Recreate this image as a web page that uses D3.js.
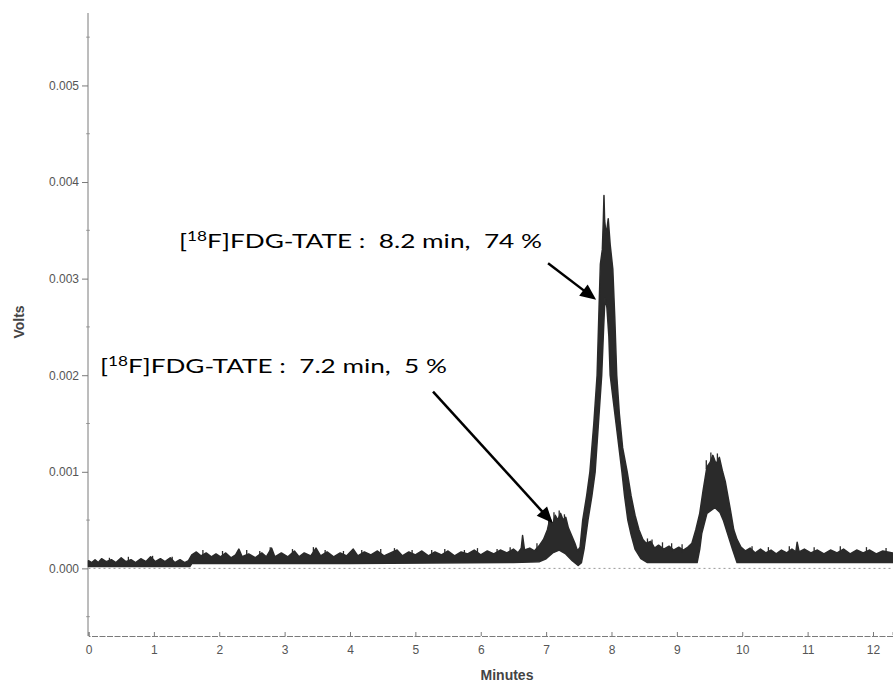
<!DOCTYPE html>
<html>
<head>
<meta charset="utf-8">
<script src="https://cdn.jsdelivr.net/npm/d3@7"></script>
<style>
  body { margin: 0; background: #fff; }
</style>
</head>
<body>
<svg id="chart" width="893" height="683"></svg>
<script>
'use strict';

// ---- data (minutes, volts) ----
var minuteTicks = [0, 1, 2, 3, 4, 5, 6, 7, 8, 9, 10, 11, 12];
var voltTicks = [0.000, 0.001, 0.002, 0.003, 0.004, 0.005];
var voltMinorTicks = [-0.0005, 0.0005, 0.0015, 0.0025, 0.0035, 0.0045, 0.0055];

// top edge of the noisy trace band
var upperEdge = [
  [0.00,0.00008],[0.05,0.00006],[0.10,0.00009],[0.15,0.00006],[0.20,0.00010],[0.27,0.00007],
  [0.35,0.00009],[0.42,0.00006],[0.50,0.00011],[0.57,0.00007],[0.65,0.00009],[0.72,0.00006],
  [0.80,0.00010],[0.88,0.00007],[0.95,0.00012],[1.02,0.00007],[1.10,0.00010],[1.17,0.00007],
  [1.25,0.00011],[1.32,0.00006],[1.40,0.00009],[1.47,0.00006],[1.53,0.00008],
  [1.58,0.00014],[1.65,0.00017],[1.72,0.00013],[1.80,0.00016],[1.88,0.00012],[1.95,0.00015],
  [2.02,0.00012],[2.10,0.00016],[2.18,0.00011],[2.25,0.00014],[2.30,0.00020],[2.35,0.00012],
  [2.45,0.00015],[2.55,0.00011],[2.65,0.00016],[2.72,0.00012],[2.80,0.00021],[2.85,0.00012],
  [2.95,0.00016],[3.05,0.00012],[3.15,0.00018],[3.22,0.00012],[3.30,0.00016],[3.40,0.00013],
  [3.48,0.00021],[3.55,0.00013],[3.65,0.00017],[3.75,0.00012],[3.85,0.00016],[3.95,0.00013],
  [4.05,0.00020],[4.12,0.00013],[4.22,0.00017],[4.32,0.00014],[4.42,0.00018],[4.52,0.00013],
  [4.62,0.00016],[4.72,0.00019],[4.80,0.00013],[4.90,0.00017],[5.00,0.00014],[5.10,0.00018],
  [5.20,0.00013],[5.30,0.00017],[5.40,0.00014],[5.50,0.00018],[5.60,0.00013],[5.70,0.00017],
  [5.80,0.00015],[5.90,0.00019],[6.00,0.00014],[6.10,0.00018],[6.20,0.00015],[6.30,0.00019],
  [6.40,0.00016],[6.50,0.00020],[6.57,0.00016],[6.62,0.00021],[6.64,0.00034],[6.67,0.00019],
  [6.75,0.00021],[6.82,0.00018],[6.90,0.00024],[6.96,0.00030],[7.02,0.00040],[7.06,0.00052],
  [7.10,0.00045],[7.14,0.00055],[7.18,0.00050],[7.22,0.00057],[7.26,0.00050],[7.30,0.00053],
  [7.34,0.00042],[7.39,0.00034],[7.44,0.00026],[7.48,0.00018],
  [7.52,0.00022],[7.56,0.00050],[7.62,0.00075],[7.67,0.00100],[7.73,0.00150],[7.78,0.00200],
  [7.81,0.00270],[7.83,0.00315],[7.86,0.00330],[7.875,0.00360],[7.885,0.00386],[7.895,0.00360],
  [7.92,0.00345],[7.95,0.00362],[7.98,0.00335],[8.02,0.00310],[8.05,0.00260],[8.08,0.00200],
  [8.12,0.00160],[8.17,0.00125],[8.24,0.00100],[8.30,0.00075],[8.36,0.00055],[8.42,0.00040],
  [8.48,0.00030],[8.53,0.00026],[8.60,0.00028],[8.66,0.00021],[8.72,0.00024],[8.80,0.00020],
  [8.88,0.00023],[8.95,0.00019],[9.03,0.00022],[9.10,0.00019],[9.17,0.00022],
  [9.23,0.00026],[9.29,0.00040],[9.35,0.00057],[9.40,0.00080],[9.46,0.00105],[9.51,0.00110],
  [9.55,0.00117],[9.60,0.00108],[9.65,0.00115],[9.70,0.00100],[9.74,0.00090],[9.78,0.00075],
  [9.82,0.00060],[9.87,0.00040],[9.92,0.00030],[9.98,0.00022],
  [10.05,0.00018],[10.12,0.00021],[10.20,0.00016],[10.28,0.00020],[10.36,0.00016],[10.44,0.00019],
  [10.52,0.00015],[10.60,0.00019],[10.68,0.00016],[10.76,0.00020],[10.82,0.00017],[10.84,0.00027],
  [10.87,0.00017],[10.95,0.00020],[11.05,0.00016],[11.15,0.00019],[11.25,0.00015],[11.35,0.00019],
  [11.45,0.00016],[11.55,0.00020],[11.65,0.00015],[11.75,0.00019],[11.85,0.00016],[11.95,0.00019],
  [12.05,0.00015],[12.15,0.00018],[12.30,0.00016]
];

// bottom edge of the trace band
var lowerEdge = [
  [0.00,0.00002],[1.55,0.00002],[1.58,0.00005],[4.00,0.00005],[6.50,0.00006],[6.90,0.00007],
  [7.00,0.00010],[7.10,0.00016],[7.20,0.00019],[7.30,0.00015],[7.40,0.00008],[7.49,0.00003],
  [7.54,0.00006],[7.58,0.00020],[7.64,0.00050],[7.70,0.00075],[7.75,0.00100],[7.80,0.00150],
  [7.85,0.00200],[7.88,0.00250],[7.90,0.00280],[7.93,0.00270],[7.96,0.00240],[7.98,0.00200],
  [8.07,0.00150],[8.16,0.00100],[8.20,0.00075],[8.25,0.00050],[8.30,0.00035],[8.36,0.00020],
  [8.45,0.00010],[8.55,0.00006],[9.31,0.00006],[9.35,0.00020],[9.38,0.00036],[9.46,0.00057],
  [9.58,0.00063],[9.66,0.00058],[9.71,0.00050],[9.78,0.00035],[9.85,0.00020],[9.92,0.00006],
  [12.30,0.00006]
];

// isolated noise spikes poking above the band
var spikes = [
  [0.32,0.00011],[0.61,0.00012],[0.98,0.00013],[1.28,0.00012],[1.75,0.00019],[2.05,0.00018],
  [2.42,0.00019],[2.62,0.00018],[2.78,0.00022],[3.12,0.00020],[3.44,0.00022],[3.62,0.00019],
  [3.90,0.00018],[4.18,0.00019],[4.47,0.00020],[4.68,0.00021],[4.95,0.00019],[5.25,0.00019],
  [5.45,0.00020],[5.75,0.00019],[5.95,0.00021],[6.25,0.00020],[6.45,0.00022],[6.86,0.00026],
  [7.04,0.00055],[7.12,0.00058],[7.20,0.00060],[7.28,0.00056],[8.55,0.00031],[8.62,0.00030],
  [8.78,0.00027],[8.92,0.00026],[9.08,0.00025],[9.45,0.00112],[9.52,0.00120],[9.62,0.00119],
  [10.15,0.00023],[10.40,0.00022],[10.72,0.00023],[11.10,0.00022],[11.50,0.00023],[11.90,0.00022],
  [12.20,0.00021]
];

// peak labels: text anchor and arrow tail/tip, in (minutes, volts)
var peakLabels = [
  { pre: '[', sup: '18', post: 'F]FDG-TATE :  8.2 min,  74 %', at: [1.385, 0.00332], width: 363,
    tail: [7.03, 0.00316], tip: [7.765, 0.00278] },
  { pre: '[', sup: '18', post: 'F]FDG-TATE :  7.2 min,  5 %', at: [0.175, 0.00202], width: 347,
    tail: [5.27, 0.00183], tip: [7.10, 0.00047] }
];

// ---- drawing ----
var svg = d3.select('#chart');

var x = d3.scaleLinear().domain([0, 12.3]).range([88.5, 892.6]);
var y = d3.scaleLinear().domain([-0.0007, 0.00575]).range([636, 13]);

var axisColor = '#7a7a7a';
var labelColor = '#555';
var traceColor = '#2a2a2a';

// y axis
var gy = svg.append('g')
    .attr('transform', 'translate(88,0)')
    .call(d3.axisLeft(y).tickValues(voltTicks).tickFormat(d3.format('.3f')).tickSize(6).tickPadding(3));
gy.select('.domain').remove();
gy.selectAll('.tick line').attr('stroke', axisColor);
gy.selectAll('.tick text')
    .attr('font-family', 'Liberation Sans, Arial, sans-serif')
    .attr('font-size', 12)
    .attr('fill', labelColor);

svg.append('g')
    .selectAll('line')
    .data(voltMinorTicks)
    .join('line')
      .attr('x1', 86).attr('x2', 90)
      .attr('y1', d => y(d)).attr('y2', d => y(d))
      .attr('stroke', '#aaa');

svg.append('line')
    .attr('x1', 88).attr('x2', 88)
    .attr('y1', y.range()[1]).attr('y2', y.range()[0])
    .attr('stroke', axisColor);

// x axis
var gx = svg.append('g')
    .attr('transform', 'translate(0,636)')
    .call(d3.axisBottom(x).tickValues(minuteTicks).tickFormat(d3.format('d')).tickSize(-4).tickPadding(9));
gx.select('.domain')
    .attr('stroke', axisColor)
    .attr('stroke-dasharray', '6,1.5');
gx.selectAll('.tick line').attr('stroke', axisColor);
gx.selectAll('.tick text')
    .attr('font-family', 'Liberation Sans, Arial, sans-serif')
    .attr('font-size', 12)
    .attr('fill', labelColor);

// axis titles
svg.append('text')
    .attr('transform', 'translate(24,322) rotate(-90)')
    .attr('text-anchor', 'middle')
    .attr('font-family', 'Liberation Sans, Arial, sans-serif')
    .attr('font-weight', 'bold')
    .attr('font-size', 14)
    .attr('fill', '#444')
    .text('Volts');

svg.append('text')
    .attr('x', 507).attr('y', 680)
    .attr('text-anchor', 'middle')
    .attr('font-family', 'Liberation Sans, Arial, sans-serif')
    .attr('font-weight', 'bold')
    .attr('font-size', 14)
    .attr('fill', '#444')
    .text('Minutes');

// dotted zero reference
svg.append('line')
    .attr('x1', x(0)).attr('x2', x(12.3))
    .attr('y1', y(0)).attr('y2', y(0))
    .attr('stroke', '#999')
    .attr('stroke-dasharray', '2,3');

// trace band: upper edge forward, lower edge back
var line = d3.line()
    .x(d => x(d[0]))
    .y(d => y(d[1]));

var band = upperEdge.concat(lowerEdge.slice().reverse());

svg.append('path')
    .attr('d', line(band) + 'Z')
    .attr('fill', traceColor)
    .attr('stroke', traceColor)
    .attr('stroke-width', 1.5)
    .attr('stroke-linejoin', 'round');

// spikes only reach down into the band, never through the white inside a peak
svg.append('g')
    .selectAll('line')
    .data(spikes)
    .join('line')
      .attr('x1', d => x(d[0])).attr('x2', d => x(d[0]))
      .attr('y1', d => y(d[1] - 0.00009)).attr('y2', d => y(d[1]))
      .attr('stroke', traceColor)
      .attr('stroke-width', 1.3);

// labels and arrows
var labels = svg.append('g')
    .attr('font-family', 'Lato, "Open Sans", sans-serif')
    .attr('fill', '#000');

peakLabels.forEach(function(p)
{
  var t = labels.append('text')
      .attr('x', x(p.at[0]))
      .attr('y', y(p.at[1]))
      .attr('font-size', 19)
      .attr('textLength', p.width)
      .attr('lengthAdjust', 'spacingAndGlyphs')
      .style('white-space', 'pre');
  t.append('tspan').text(p.pre);
  t.append('tspan').attr('font-size', 12.5).attr('dy', -7).text(p.sup);
  t.append('tspan').attr('dy', 7).text(p.post);

  DrawArrow(x(p.tail[0]), y(p.tail[1]), x(p.tip[0]), y(p.tip[1]));
});

function DrawArrow(x1, y1, x2, y2)
{
  var ang = Math.atan2(y2 - y1, x2 - x1);
  var len = 16, half = 7;
  var bx = x2 - len * Math.cos(ang);
  var by = y2 - len * Math.sin(ang);
  var px = -Math.sin(ang) * half;
  var py = Math.cos(ang) * half;

  labels.append('line')
      .attr('x1', x1).attr('y1', y1)
      .attr('x2', bx + 2 * Math.cos(ang)).attr('y2', by + 2 * Math.sin(ang))
      .attr('stroke', '#000')
      .attr('stroke-width', 2.5);

  labels.append('path')
      .attr('d', `M${x2},${y2}L${bx + px},${by + py}L${bx - px},${by - py}Z`)
      .attr('fill', '#000');
}
</script>
</body>
</html>
